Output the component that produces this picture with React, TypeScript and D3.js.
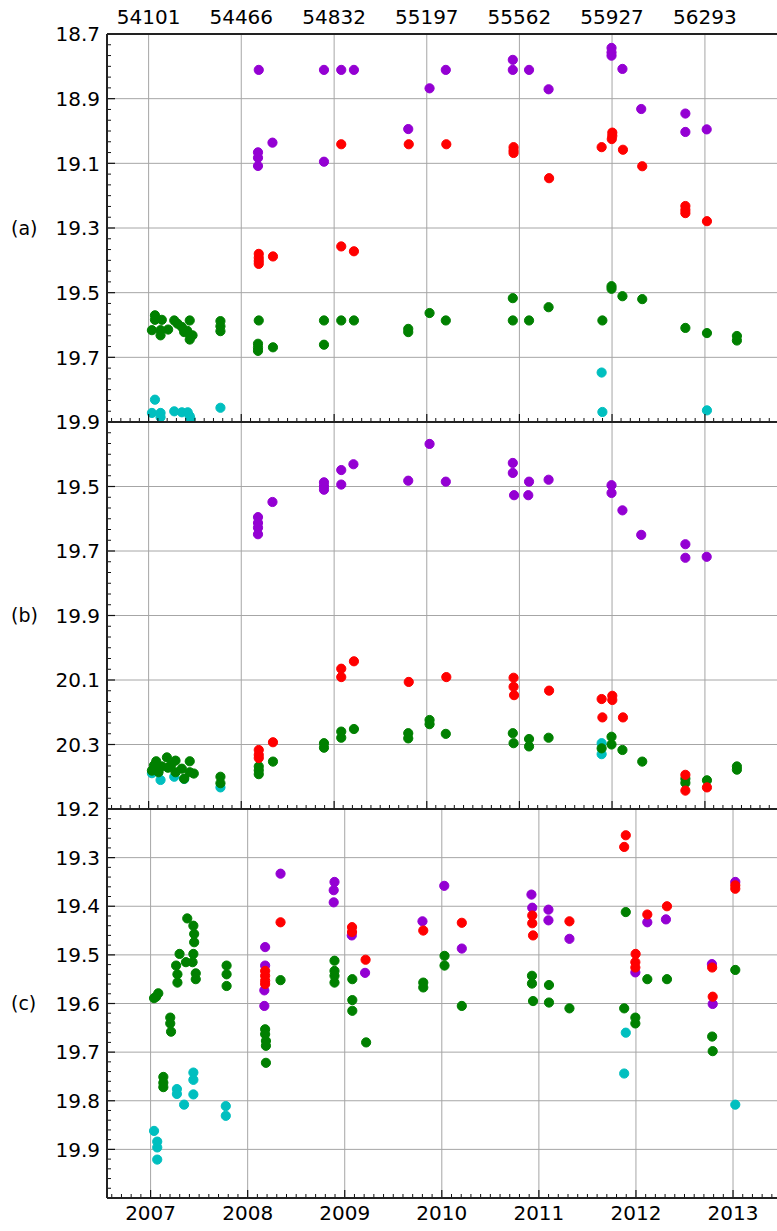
import React from "react";
import * as d3 from "d3";

type Pt = [number, number];

// Axis tick values
const yearTicks = [2007, 2008, 2009, 2010, 2011, 2012, 2013];
const mjdTicks = [54101, 54466, 54832, 55197, 55562, 55927, 56293];

// Panel (a): [MJD, magnitude]
const aViolet: Pt[] = [
  [54535, 18.811], [54792, 18.811], [54860, 18.811], [54910, 18.811], [55208, 18.868],
  [55272, 18.811], [55536, 18.78], [55536, 18.811], [55600, 18.811], [55677, 18.871],
  [55925, 18.743], [55925, 18.757], [55925, 18.767], [55968, 18.808], [56042, 18.932],
  [56216, 18.946], [56216, 19.003], [56300, 18.995], [55124, 18.994], [54589, 19.036],
  [54532, 19.066], [54532, 19.083], [54532, 19.108], [54792, 19.095],
];
const aRed: Pt[] = [
  [54860, 19.041], [55126, 19.041], [55274, 19.041], [55539, 19.05], [55539, 19.06],
  [55539, 19.068], [55886, 19.05], [55928, 19.005], [55928, 19.015], [55926, 19.025],
  [55970, 19.058], [56046, 19.109], [55679, 19.146], [56216, 19.232], [56216, 19.244],
  [56216, 19.254], [56301, 19.279], [54535, 19.38], [54535, 19.392], [54535, 19.402],
  [54535, 19.411], [54591, 19.388], [54860, 19.357], [54910, 19.372],
];
const aGreen: Pt[] = [
  [54126, 19.57], [54126, 19.584], [54153, 19.584], [54114, 19.616], [54148, 19.616],
  [54148, 19.632], [54178, 19.614], [54202, 19.586], [54215, 19.596], [54232, 19.606],
  [54241, 19.622], [54263, 19.586], [54266, 19.632], [54263, 19.645], [54274, 19.632],
  [54253, 19.618], [54384, 19.588], [54384, 19.604], [54384, 19.619], [54535, 19.586],
  [54532, 19.658], [54532, 19.67], [54532, 19.68], [54591, 19.669], [54792, 19.586],
  [54792, 19.661], [54860, 19.586], [54910, 19.586], [55124, 19.612], [55124, 19.622],
  [55208, 19.563], [55272, 19.586], [55536, 19.517], [55536, 19.586], [55600, 19.586],
  [55677, 19.545], [55889, 19.586], [55925, 19.48], [55925, 19.488], [55968, 19.511],
  [56046, 19.52], [56216, 19.609], [56301, 19.625], [56419, 19.634], [56419, 19.648],
];
const aCyan: Pt[] = [
  [54126, 19.831], [54114, 19.872], [54148, 19.872], [54148, 19.885], [54202, 19.867],
  [54232, 19.87], [54255, 19.87], [54263, 19.882], [54266, 19.89], [54384, 19.856],
  [55886, 19.747], [55889, 19.869], [56301, 19.864],
];

// Panel (b)
const bViolet: Pt[] = [
  [55208, 19.368], [54908, 19.431], [54860, 19.449], [54860, 19.494], [54792, 19.487],
  [54792, 19.499], [54792, 19.51], [55124, 19.482], [55272, 19.485], [55536, 19.427],
  [55536, 19.458], [55541, 19.527], [55600, 19.485], [55597, 19.527], [55677, 19.479],
  [55925, 19.496], [55925, 19.52], [55968, 19.574], [56042, 19.65], [56216, 19.679],
  [56216, 19.721], [56300, 19.718], [54589, 19.548], [54532, 19.595], [54532, 19.613],
  [54532, 19.628], [54532, 19.648],
];
const bRed: Pt[] = [
  [54910, 20.042], [54860, 20.065], [54860, 20.091], [55126, 20.106], [55274, 20.091],
  [55539, 20.093], [55539, 20.121], [55541, 20.147], [55679, 20.133], [55886, 20.159],
  [55928, 20.149], [55928, 20.162], [55889, 20.216], [55970, 20.216], [54591, 20.293],
  [54535, 20.317], [54535, 20.332], [54535, 20.342], [56216, 20.394], [56216, 20.443],
  [56301, 20.433],
];
const bGreen: Pt[] = [
  [54114, 20.381], [54131, 20.352], [54140, 20.386], [54173, 20.34], [54177, 20.372],
  [54207, 20.35], [54207, 20.386], [54241, 20.406], [54263, 20.352], [54263, 20.386],
  [54279, 20.39], [54153, 20.368], [54190, 20.363], [54122, 20.365], [54232, 20.375],
  [54384, 20.4], [54384, 20.42], [54535, 20.368], [54535, 20.38], [54535, 20.392],
  [54591, 20.353], [54792, 20.296], [54792, 20.31], [54860, 20.26], [54860, 20.279],
  [54910, 20.252], [55124, 20.265], [55124, 20.281], [55208, 20.224], [55208, 20.237],
  [55272, 20.267], [55536, 20.265], [55539, 20.296], [55600, 20.283], [55600, 20.306],
  [55677, 20.279], [55886, 20.312], [55925, 20.276], [55925, 20.3], [55968, 20.317],
  [56046, 20.353], [56216, 20.406], [56216, 20.419], [56301, 20.411], [56419, 20.368],
  [56419, 20.378],
];
const bCyan: Pt[] = [
  [54114, 20.389], [54148, 20.41], [54202, 20.4], [54241, 20.407], [54384, 20.433],
  [55886, 20.296], [55886, 20.33],
];

// Panel (c)
const cViolet: Pt[] = [
  [54590, 19.333], [54793, 19.35], [54790, 19.367], [54790, 19.392], [54532, 19.484],
  [54532, 19.522], [54529, 19.573], [54529, 19.605], [54858, 19.46], [54908, 19.537],
  [55124, 19.431], [55206, 19.358], [55272, 19.487], [55534, 19.376], [55537, 19.403],
  [55598, 19.407], [55598, 19.429], [55677, 19.467], [55925, 19.536], [55970, 19.433],
  [56040, 19.427], [56213, 19.519], [56216, 19.601], [56301, 19.35],
];
const cRed: Pt[] = [
  [54590, 19.433], [54532, 19.533], [54532, 19.543], [54532, 19.553], [54532, 19.56],
  [54859, 19.443], [54859, 19.453], [54910, 19.51], [55127, 19.45], [55272, 19.434],
  [55537, 19.419], [55537, 19.435], [55540, 19.46], [55677, 19.431], [55889, 19.254],
  [55883, 19.278], [55926, 19.498], [55925, 19.515], [55925, 19.526], [55970, 19.417],
  [56044, 19.4], [56214, 19.526], [56216, 19.586], [56301, 19.357], [56301, 19.364],
];
const cGreen: Pt[] = [
  [54122, 19.586], [54114, 19.589], [54130, 19.579], [54175, 19.629], [54175, 19.641],
  [54178, 19.658], [54149, 19.751], [54149, 19.763], [54149, 19.772], [54239, 19.425],
  [54262, 19.44], [54265, 19.457], [54265, 19.474], [54262, 19.498], [54210, 19.498],
  [54197, 19.522], [54202, 19.54], [54202, 19.557], [54234, 19.515], [54259, 19.515],
  [54271, 19.538], [54271, 19.55], [54387, 19.522], [54387, 19.54], [54387, 19.564],
  [54532, 19.653], [54532, 19.663], [54535, 19.677], [54535, 19.687], [54535, 19.722],
  [54590, 19.552], [54793, 19.512], [54793, 19.533], [54793, 19.543], [54793, 19.557],
  [54860, 19.55], [54860, 19.593], [54860, 19.615], [54912, 19.68], [55127, 19.557],
  [55127, 19.567], [55207, 19.502], [55207, 19.522], [55272, 19.605], [55536, 19.543],
  [55536, 19.559], [55540, 19.595], [55600, 19.562], [55600, 19.598], [55677, 19.61],
  [55889, 19.412], [55883, 19.61], [55925, 19.629], [55925, 19.641], [55970, 19.55],
  [56044, 19.55], [56214, 19.668], [56216, 19.698], [56301, 19.531],
];
const cCyan: Pt[] = [
  [54114, 19.862], [54126, 19.884], [54126, 19.896], [54126, 19.921], [54200, 19.776],
  [54200, 19.786], [54227, 19.808], [54262, 19.742], [54262, 19.757], [54262, 19.787],
  [54384, 19.811], [54384, 19.831], [55889, 19.66], [55883, 19.744], [56301, 19.808],
];

const COLORS = { cyan: "#00bfbf", green: "#008000", violet: "#9400d3", red: "#ff0000" };
const FONT = "'DejaVu Sans', sans-serif";

const W = 777;
const H = 1231;
const LEFT = 107;
const RIGHT = 777;

const toYear = (mjd: number) => 2007 + (mjd - 54101) / 365.25;

// Panels (a) and (b) are laid out in MJD, panel (c) in calendar years
const xAB = d3.scaleLinear().domain([53937, 56577]).range([LEFT, RIGHT]);
const xC = d3.scaleLinear().domain([2006.551, 2013.453]).range([LEFT, RIGHT]);

type Panel = {
  key: string;
  label: string;
  top: number;
  bottom: number;
  domain: [number, number];
  step: number;
  minorDiv: number;
  labels: number[];
  mode: "mjd" | "year";
  series: [Pt[], string][];
};

const panels: Panel[] = [
  {
    key: "a", label: "(a)", top: 34, bottom: 422, domain: [18.7, 19.9], step: 0.2, minorDiv: 6,
    labels: [18.7, 18.9, 19.1, 19.3, 19.5, 19.7, 19.9], mode: "mjd",
    series: [[aCyan, COLORS.cyan], [aGreen, COLORS.green], [aViolet, COLORS.violet], [aRed, COLORS.red]],
  },
  {
    key: "b", label: "(b)", top: 422, bottom: 809, domain: [19.3, 20.5], step: 0.2, minorDiv: 6,
    labels: [19.5, 19.7, 19.9, 20.1, 20.3], mode: "mjd",
    series: [[bCyan, COLORS.cyan], [bGreen, COLORS.green], [bViolet, COLORS.violet], [bRed, COLORS.red]],
  },
  {
    key: "c", label: "(c)", top: 809, bottom: 1198, domain: [19.2, 20.0], step: 0.1, minorDiv: 5,
    labels: [19.2, 19.3, 19.4, 19.5, 19.6, 19.7, 19.8, 19.9], mode: "year",
    series: [[cCyan, COLORS.cyan], [cGreen, COLORS.green], [cViolet, COLORS.violet], [cRed, COLORS.red]],
  },
];

function PanelView({ p }: { p: Panel }) {
  const y = d3.scaleLinear().domain(p.domain).range([p.top, p.bottom]);
  const xOf = (mjd: number) => (p.mode === "mjd" ? xAB(mjd) : xC(toYear(mjd)));
  const nMajor = Math.round((p.domain[1] - p.domain[0]) / p.step);
  const majors = d3.range(nMajor + 1).map((i) => +(p.domain[0] + i * p.step).toFixed(3));
  const minors = d3
    .range(nMajor * p.minorDiv + 1)
    .map((i) => p.domain[0] + (i * p.step) / p.minorDiv)
    .filter((_, i) => i % p.minorDiv !== 0);

  // vertical grid / x ticks
  const xMajors = p.mode === "mjd" ? mjdTicks.map((m) => xAB(m)) : yearTicks.map((t) => xC(t));
  const xMinors: number[] = [];
  const xm = xMajors;
  const stepPx = xm[1] - xm[0];
  for (let k = -2; k < xm.length + 1; k++) {
    const base = xm[0] + k * stepPx;
    for (let j = 1; j < 10; j++) {
      const v = base + (j * stepPx) / 10;
      if (v > LEFT + 1 && v < RIGHT) xMinors.push(v);
    }
  }
  for (let k = -2; k < xm.length + 2; k++) {
    const v = xm[0] + k * stepPx;
    if ((v > LEFT + 1 && v < xm[0] - 1) || v > xm[xm.length - 1] + 1) {
      if (v < RIGHT) xMinors.push(v);
    }
  }

  const clipId = `clip-${p.key}`;
  return (
    <g>
      <defs>
        <clipPath id={clipId}>
          <rect x={LEFT} y={p.top} width={RIGHT - LEFT} height={p.bottom - p.top} />
        </clipPath>
      </defs>
      {/* grid */}
      {majors.slice(1, -1).map((v) => (
        <line key={`gy${v}`} x1={LEFT} x2={RIGHT} y1={y(v)} y2={y(v)} stroke="#a6a6a6" strokeWidth={1} />
      ))}
      {xMajors.map((xv, i) => (
        <line key={`gx${i}`} x1={xv} x2={xv} y1={p.top} y2={p.bottom} stroke="#a6a6a6" strokeWidth={1} />
      ))}
      {/* markers */}
      <g clipPath={`url(#${clipId})`}>
        {p.series.map(([pts, col], si) => (
          <g key={si} fill={col} stroke={col} strokeWidth={1}>
            {pts.map((d, i) => (
              <circle key={i} cx={xOf(d[0])} cy={y(d[1])} r={4.6} />
            ))}
          </g>
        ))}
      </g>
      {/* y ticks */}
      {majors.map((v) => (
        <line key={`ty${v}`} x1={LEFT} x2={LEFT + 8} y1={y(v)} y2={y(v)} stroke="#111" strokeWidth={1.2} />
      ))}
      {minors.map((v, i) => (
        <line key={`tm${i}`} x1={LEFT} x2={LEFT + 4} y1={y(v)} y2={y(v)} stroke="#111" strokeWidth={1} />
      ))}
      {/* x ticks on the panel's lower edge */}
      {xMajors.map((xv, i) => (
        <line key={`tx${i}`} x1={xv} x2={xv} y1={p.bottom} y2={p.bottom - 8} stroke="#111" strokeWidth={1.2} />
      ))}
      {xMinors.map((xv, i) => (
        <line key={`txm${i}`} x1={xv} x2={xv} y1={p.bottom} y2={p.bottom - 4} stroke="#111" strokeWidth={1} />
      ))}
      {/* y labels */}
      {p.labels.map((v) => (
        <text
          key={`ly${v}`}
          x={100}
          y={y(v)}
          dy="0.36em"
          textAnchor="end"
          fontFamily={FONT}
          fontSize={20}
          fill="#000"
        >
          {v.toFixed(1)}
        </text>
      ))}
      <text
        x={11}
        y={(p.top + p.bottom) / 2}
        dy="0.36em"
        fontFamily={FONT}
        fontSize={19}
        fill="#000"
      >
        {p.label}
      </text>
    </g>
  );
}

export default function App() {
  return (
    <svg
      width={W}
      height={H}
      viewBox={`0 0 ${W} ${H}`}
      style={{ position: "absolute", left: 0, top: 0, background: "#fff" }}
    >
      <rect x={0} y={0} width={W} height={H} fill="#fff" />
      {panels.map((p) => (
        <PanelView key={p.key} p={p} />
      ))}
      {/* spines */}
      <line x1={LEFT} x2={LEFT} y1={34} y2={1198} stroke="#222" strokeWidth={2} />
      {[34, 422, 809, 1198].map((yy) => (
        <line key={yy} x1={LEFT} x2={RIGHT} y1={yy} y2={yy} stroke="#222" strokeWidth={2} />
      ))}
      {/* MJD labels along the top */}
      {mjdTicks.map((m) => (
        <text key={m} x={xAB(m)} y={24} textAnchor="middle" fontFamily={FONT} fontSize={20} fill="#000">
          {m}
        </text>
      ))}
      {/* calendar years along the bottom */}
      {yearTicks.map((t) => (
        <text key={t} x={xC(t)} y={1220} textAnchor="middle" fontFamily={FONT} fontSize={20} fill="#000">
          {t}
        </text>
      ))}
    </svg>
  );
}
